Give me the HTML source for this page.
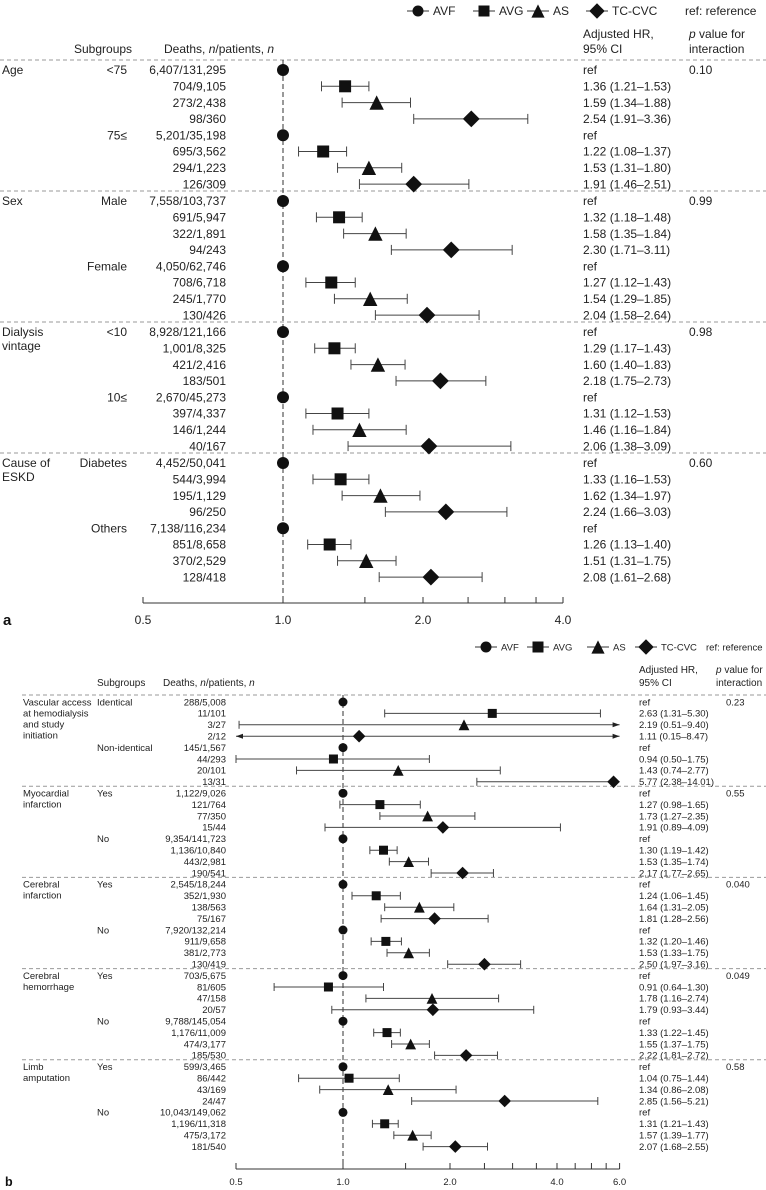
<!DOCTYPE html>
<html><head><meta charset="utf-8">
<style>
html,body{margin:0;padding:0;background:#fff;}
svg{display:block;font-family:"Liberation Sans",sans-serif;}
</style></head>
<body>
<svg id="chart" width="766" height="1190" viewBox="0 0 766 1190" xmlns="http://www.w3.org/2000/svg"></svg>
<script>
// ---------- Panel a data ----------
const aGroups = [["Age"],["Sex"],["Dialysis","vintage"],["Cause of","ESKD"]];
const aSubgroups = ["<75","75\u2264","Male","Female","<10","10\u2264","Diabetes","Others"];
const aPvalues = ["0.10","0.99","0.98","0.60"];
const aDeaths = ["6,407/131,295","704/9,105","273/2,438","98/360","5,201/35,198","695/3,562","294/1,223","126/309",
"7,558/103,737","691/5,947","322/1,891","94/243","4,050/62,746","708/6,718","245/1,770","130/426",
"8,928/121,166","1,001/8,325","421/2,416","183/501","2,670/45,273","397/4,337","146/1,244","40/167",
"4,452/50,041","544/3,994","195/1,129","96/250","7,138/116,234","851/8,658","370/2,529","128/418"];
const aHR = [1,1.36,1.59,2.54,1,1.22,1.53,1.91, 1,1.32,1.58,2.30,1,1.27,1.54,2.04, 1,1.29,1.60,2.18,1,1.31,1.46,2.06, 1,1.33,1.62,2.24,1,1.26,1.51,2.08];
const aLo = [null,1.21,1.34,1.91,null,1.08,1.31,1.46, null,1.18,1.35,1.71,null,1.12,1.29,1.58, null,1.17,1.40,1.75,null,1.12,1.16,1.38, null,1.16,1.34,1.66,null,1.13,1.31,1.61];
const aHi = [null,1.53,1.88,3.36,null,1.37,1.80,2.51, null,1.48,1.84,3.11,null,1.43,1.85,2.64, null,1.43,1.83,2.73,null,1.53,1.84,3.09, null,1.53,1.97,3.03,null,1.40,1.75,2.68];
const aTicks = [0.5,1,1.5,2,2.5,3,3.5,4];
const aTickLabels = ["0.5","1.0","2.0","4.0"];
const aTickLabelVals = [0.5,1,2,4];

// ---------- Panel b data ----------
const bGroups = [["Vascular access","at hemodialysis","and study","initiation"],["Myocardial","infarction"],["Cerebral","infarction"],["Cerebral","hemorrhage"],["Limb","amputation"]];
const bSubgroups = ["Identical","Non-identical","Yes","No","Yes","No","Yes","No","Yes","No"];
const bPvalues = ["0.23","0.55","0.040","0.049","0.58"];
const bDeaths = ["288/5,008","11/101","3/27","2/12","145/1,567","44/293","20/101","13/31",
"1,122/9,026","121/764","77/350","15/44","9,354/141,723","1,136/10,840","443/2,981","190/541",
"2,545/18,244","352/1,930","138/563","75/167","7,920/132,214","911/9,658","381/2,773","130/419",
"703/5,675","81/605","47/158","20/57","9,788/145,054","1,176/11,009","474/3,177","185/530",
"599/3,465","86/442","43/169","24/47","10,043/149,062","1,196/11,318","475/3,172","181/540"];
const bHR = [1,2.63,2.19,1.11,1,0.94,1.43,5.77, 1,1.27,1.73,1.91,1,1.30,1.53,2.17, 1,1.24,1.64,1.81,1,1.32,1.53,2.50, 1,0.91,1.78,1.79,1,1.33,1.55,2.22, 1,1.04,1.34,2.85,1,1.31,1.57,2.07];
const bLo = [null,1.31,0.51,0.15,null,0.50,0.74,2.38, null,0.98,1.27,0.89,null,1.19,1.35,1.77, null,1.06,1.31,1.28,null,1.20,1.33,1.97, null,0.64,1.16,0.93,null,1.22,1.37,1.81, null,0.75,0.86,1.56,null,1.21,1.39,1.68];
const bHi = [null,5.30,9.40,8.47,null,1.75,2.77,14.01, null,1.65,2.35,4.09,null,1.42,1.74,2.65, null,1.45,2.05,2.56,null,1.46,1.75,3.16, null,1.30,2.74,3.44,null,1.45,1.75,2.72, null,1.44,2.08,5.21,null,1.43,1.77,2.55];
const bTicks = [0.5,1,1.5,2,2.5,3,3.5,4,4.5,5,5.5,6];
const bTickLabels = ["0.5","1.0","2.0","4.0","6.0"];
const bTickLabelVals = [0.5,1,2,4,6];

const NS = "http://www.w3.org/2000/svg";
const svg = document.getElementById("chart");
function mk(tag, attrs, parent){const e=document.createElementNS(NS,tag);for(const k in attrs)e.setAttribute(k,attrs[k]);(parent||svg).appendChild(e);return e;}
function txt(x,y,s,size,anchor,parent,style){const t=mk("text",{x:x,y:y,"font-size":size,"text-anchor":anchor||"start",fill:"#222"},parent);if(style)t.setAttribute("font-style",style);t.textContent=s;return t;}
const fmt = v => v.toFixed(2);

function marker(kind,x,y,s,parent){
  let e;
  if(kind===0){e=mk("circle",{cx:x,cy:y,r:s*0.5,fill:"#111"},parent);}
  else if(kind===1){e=mk("rect",{x:x-s*0.5,y:y-s*0.5,width:s,height:s,fill:"#111"},parent);}
  else if(kind===2){const h=s*0.6;e=mk("polygon",{points:`${x-s*0.6},${y+h} ${x+s*0.6},${y+h} ${x},${y-h}`,fill:"#111"},parent);}
  else {const r=s*0.7;e=mk("polygon",{points:`${x-r},${y} ${x},${y-r} ${x+r},${y} ${x},${y+r}`,fill:"#111"},parent);}
  return e;
}
const kindNames=["avf-marker","avg-marker","as-marker","tc-cvc-marker"];

function legend(y, xs, size, fs, refX, parent){
  const names=["AVF","AVG","AS","TC-CVC"];
  names.forEach((n,i)=>{
    const g=mk("g",{},parent);
    
    
    mk("line",{x1:xs[i]-size,y1:y,x2:xs[i]+size,y2:y,stroke:"#333","stroke-width":1},g);
    marker(i,xs[i],y,size,g);
    txt(xs[i]+size+4,y+fs*0.35,n,fs,"start",g);
  });
  const r=txt(refX,y+fs*0.35,"ref: reference",fs,"start",parent);
  
  
}

function panel(cfg){
  const P=mk("g",{});
  
  
  const X=cfg.x;
  legend(cfg.legendY,cfg.legendXs,cfg.legSize,cfg.legFs,cfg.refX,P);
  const hf=cfg.hdrFs;
  const hd=mk("g",{},P);
  
  
  txt(cfg.subHdrX,cfg.hdrY2,"Subgroups",hf,"start",hd);
  const dt=mk("text",{x:cfg.deathHdrX,y:cfg.hdrY2,"font-size":hf,fill:"#222"},hd);
  dt.innerHTML='Deaths, <tspan font-style="italic">n</tspan>/patients, <tspan font-style="italic">n</tspan>';
  txt(cfg.hrX,cfg.hdrY1,"Adjusted HR,",hf,"start",hd);
  txt(cfg.hrX,cfg.hdrY2,"95% CI",hf,"start",hd);
  const pv=mk("text",{x:cfg.pX-(cfg.pHdrShift||0),y:cfg.hdrY1,"font-size":hf,fill:"#222"},hd);
  pv.innerHTML='<tspan font-style="italic">p</tspan> value for';
  txt(cfg.pX-(cfg.pHdrShift||0),cfg.hdrY2,"interaction",hf,"start",hd);

  const nSec=cfg.groups.length;
  for(let s=0;s<nSec;s++){
    const first=cfg.rowY(s,0);
    const sep=mk("line",{x1:cfg.sepX0,y1:first-cfg.sepOff,x2:766,y2:first-cfg.sepOff,stroke:"#999","stroke-width":1,"stroke-dasharray":"4,3"},P);
    
    
    const gl=mk("g",{},P);
    
    
    cfg.groups[s].forEach((ln,j)=>txt(cfg.groupX,first+cfg.fs*0.35+j*cfg.glStep,ln,cfg.fs,"start",gl));
    const pt=txt(cfg.pX,first+cfg.fs*0.35,cfg.pvals[s],cfg.fs,"start",P);
    
    
    for(let h=0;h<2;h++){
      const sg=txt(cfg.subX,cfg.rowY(s,h*4)+cfg.fs*0.35,cfg.subs[s*2+h],cfg.fs,cfg.subAnchor,P);
      
      
    }
  }
  const yTop=cfg.rowY(0,0)-cfg.sepOff, yBot=cfg.axisY;
  const rl=mk("line",{x1:X(1),y1:yTop,x2:X(1),y2:yBot,stroke:"#333","stroke-width":1,"stroke-dasharray":"5,3"},P);
  
  

  const lo=X(cfg.min), hi=X(cfg.max);
  for(let i=0;i<cfg.hr.length;i++){
    const s=Math.floor(i/8), k=i%8, y=cfg.rowY(s,k), kind=i%4;
    const dtx=txt(cfg.deathX,y+cfg.fs*0.35,cfg.deaths[i],cfg.fs,"end",P);
    
    
    const label = cfg.l[i]===null ? "ref" : `${fmt(cfg.hr[i])} (${fmt(cfg.l[i])}\u2013${fmt(cfg.h[i])})`;
    const ht=txt(cfg.hrX,y+cfg.fs*0.35,label,cfg.fs,"start",P);
    
    
    const g=mk("g",{},P);
    
    
    if(cfg.l[i]!==null){
      const lv=cfg.l[i], hv=cfg.h[i];
      const x1=lv<cfg.min?lo:X(lv), x2=hv>cfg.max?hi:X(hv);
      mk("line",{x1:x1,y1:y,x2:x2,y2:y,stroke:"#444","stroke-width":1},g);
      const c=cfg.cap;
      if(lv>=cfg.min) mk("line",{x1:x1,y1:y-c,x2:x1,y2:y+c,stroke:"#444","stroke-width":1},g);
      else mk("polygon",{points:`${x1},${y} ${x1+7},${y-2.5} ${x1+7},${y+2.5}`,fill:"#222"},g);
      if(hv<=cfg.max) mk("line",{x1:x2,y1:y-c,x2:x2,y2:y+c,stroke:"#444","stroke-width":1},g);
      else mk("polygon",{points:`${x2},${y} ${x2-7},${y-2.5} ${x2-7},${y+2.5}`,fill:"#222"},g);
    }
    marker(kind,X(cfg.hr[i]),y,cfg.mSize,g);
  }
  const ax=mk("g",{},P);
  
  
  mk("line",{x1:lo,y1:cfg.axisY,x2:hi,y2:cfg.axisY,stroke:"#333","stroke-width":1},ax);
  cfg.ticks.forEach(t=>mk("line",{x1:X(t),y1:cfg.axisY-6,x2:X(t),y2:cfg.axisY,stroke:"#333","stroke-width":1},ax));
  cfg.tickVals.forEach((t,i)=>txt(X(t),cfg.axisY+cfg.tickLabOff,cfg.tickLabels[i],cfg.fs,"middle",ax));
  const pl=mk("text",{x:cfg.panelLX,y:cfg.axisY+cfg.tickLabOff+1,"font-size":cfg.fs+3,"font-weight":"bold",fill:"#111"},P);
  pl.textContent=cfg.panelLabel;
  
  
}

panel({
  name:"panel-a", x:v=>283+140*Math.log2(v), min:0.5, max:4,
  legendY:11, legendXs:[418,484,538,597], legSize:11, legFs:12, refX:685, fs:12, hdrFs:12,
  subHdrX:74, deathHdrX:164, hdrY1:38, hdrY2:53, hrX:583, pX:689,
  groups:aGroups, subs:aSubgroups, pvals:aPvalues, deaths:aDeaths, hr:aHR, l:aLo, h:aHi,
  rowY:(s,k)=>70+s*131+k*16.3, sepOff:10, sepX0:0, groupX:2, glStep:14, subX:127, subAnchor:"end", deathX:226,
  cap:5, mSize:12, axisY:603, ticks:aTicks, tickVals:aTickLabelVals, tickLabels:aTickLabels, tickLabOff:21,
  panelLabel:"a", panelLX:3
});
panel({
  name:"panel-b", x:v=>343+107*Math.log2(v), min:0.5, max:6,
  legendY:647, legendXs:[486,538,598,646], legSize:11, legFs:9.5, refX:706, fs:9.5, hdrFs:10,
  subHdrX:97, deathHdrX:163, hdrY1:673, hdrY2:686, hrX:639, pX:726, pHdrShift:10,
  groups:bGroups, subs:bSubgroups, pvals:bPvalues, deaths:bDeaths, hr:bHR, l:bLo, h:bHi,
  rowY:(s,k)=>702+(s*8+k)*11.4, sepOff:7, sepX0:22, groupX:23, glStep:11, subX:97, subAnchor:"start", deathX:226,
  cap:4, mSize:9, axisY:1169, ticks:bTicks, tickVals:bTickLabelVals, tickLabels:bTickLabels, tickLabOff:16,
  panelLabel:"b", panelLX:5
});
</script>
</body></html>
